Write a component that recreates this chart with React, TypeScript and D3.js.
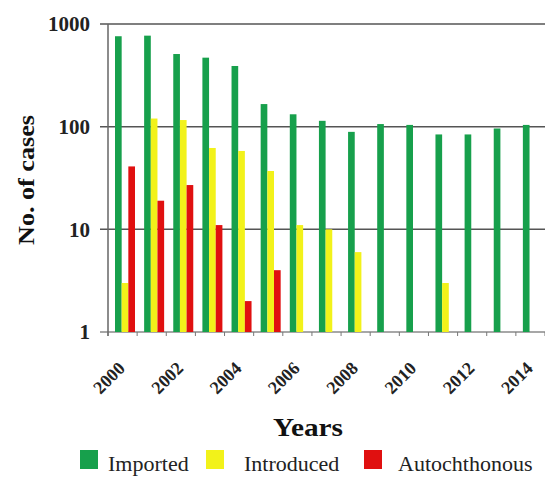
import React from 'react';
import * as d3 from 'd3';

const years = d3.range(2000, 2015).map(String);
const seriesKeys = ['Imported', 'Introduced', 'Autochthonous'];
const seriesColors = ['#17a04c', '#f2f21a', '#e01010'];

// null = no bar drawn
const imported = [760, 770, 510, 470, 390, 166, 132, 114, 89, 106, 104, 84, 84, 96, 104];
const introduced = [3, 120, 116, 62, 58, 37, 11, 10, 6, null, null, 3, null, null, null];
const autochthonous = [41, 19, 27, 11, 2, 4, null, null, null, null, null, null, null, null, null];

const yTicks = [1, 10, 100, 1000];
const labelYears = ['2000', '2002', '2004', '2006', '2008', '2010', '2012', '2014'];

const W = 545;
const H = 481;
const margin = { top: 24, left: 108, bottom: 332 };
const serif = { fontFamily: "'Liberation Serif', 'Times New Roman', serif" };

const App = () => {
  const values = [imported, introduced, autochthonous];

  const x = d3.scaleBand<string>().domain(years).range([margin.left, W]).padding(0);
  const x1 = d3.scaleBand<string>().domain(seriesKeys).range([7, 27]).padding(0);
  const y = d3.scaleLog().domain([1, 1000]).range([margin.bottom, margin.top]);

  const tickEdges = years.map(yr => x(yr) as number).concat([W]);

  return (
    <svg width={W} height={H} style={{ position: 'absolute', left: 0, top: 0, background: '#fff' }}>
      {/* gridlines */}
      {yTicks.map(t => (
        <line key={t} x1={margin.left - 8} x2={W} y1={y(t)} y2={y(t)}
          stroke={t === 1 ? '#8a8a8a' : '#555'} strokeWidth={1.5} />
      ))}
      <line x1={margin.left} x2={margin.left} y1={margin.top} y2={margin.bottom + 4} stroke="#666" strokeWidth={1.5} />

      {/* bars */}
      {values.map((vals, si) =>
        vals.map((v, i) =>
          v == null ? null : (
            <rect key={`${si}-${i}`}
              x={(x(years[i]) as number) + (x1(seriesKeys[si]) as number)}
              y={y(v)}
              width={x1.bandwidth()}
              height={y(1) - y(v)}
              fill={seriesColors[si]} />
          )
        )
      )}

      {/* x ticks */}
      {tickEdges.map((tx, i) => (
        <line key={i} x1={tx} x2={tx} y1={margin.bottom} y2={margin.bottom + 4} stroke="#777" strokeWidth={1} />
      ))}

      {/* y tick labels */}
      {yTicks.map(t => (
        <text key={t} x={90} y={y(t)} dy="0.35em" textAnchor="end"
          style={serif} fontWeight="bold" fontSize={21} fill="#222">{t}</text>
      ))}

      {/* x tick labels */}
      {labelYears.map(yr => {
        const cx = (x(yr) as number) + x.bandwidth() / 2 - 1;
        return (
          <text key={yr} transform={`translate(${cx},${margin.bottom + 33}) rotate(-45)`}
            textAnchor="end" dy="0.35em" style={serif} fontWeight="bold" fontSize={18} fill="#222">{yr}</text>
        );
      })}

      {/* axis titles */}
      <text x={308} y={436} textAnchor="middle" style={serif} fontWeight="bold" fontSize={25}
        textLength={70} lengthAdjust="spacingAndGlyphs" fill="#111">Years</text>
      <text transform="translate(34,180) rotate(-90)" textAnchor="middle" style={serif}
        fontWeight="bold" fontSize={23} textLength={130} lengthAdjust="spacingAndGlyphs" fill="#111">No. of cases</text>

      {/* legend */}
      {[
        { sx: 80, tx: 108 },
        { sx: 206, tx: 244 },
        { sx: 364, tx: 398 },
      ].map((p, i) => (
        <g key={seriesKeys[i]}>
          <rect x={p.sx} y={450} width={18} height={19} fill={seriesColors[i]} />
          <text x={p.tx} y={471} style={serif} fontSize={22} fill="#222">{seriesKeys[i]}</text>
        </g>
      ))}
    </svg>
  );
};

export default App;
